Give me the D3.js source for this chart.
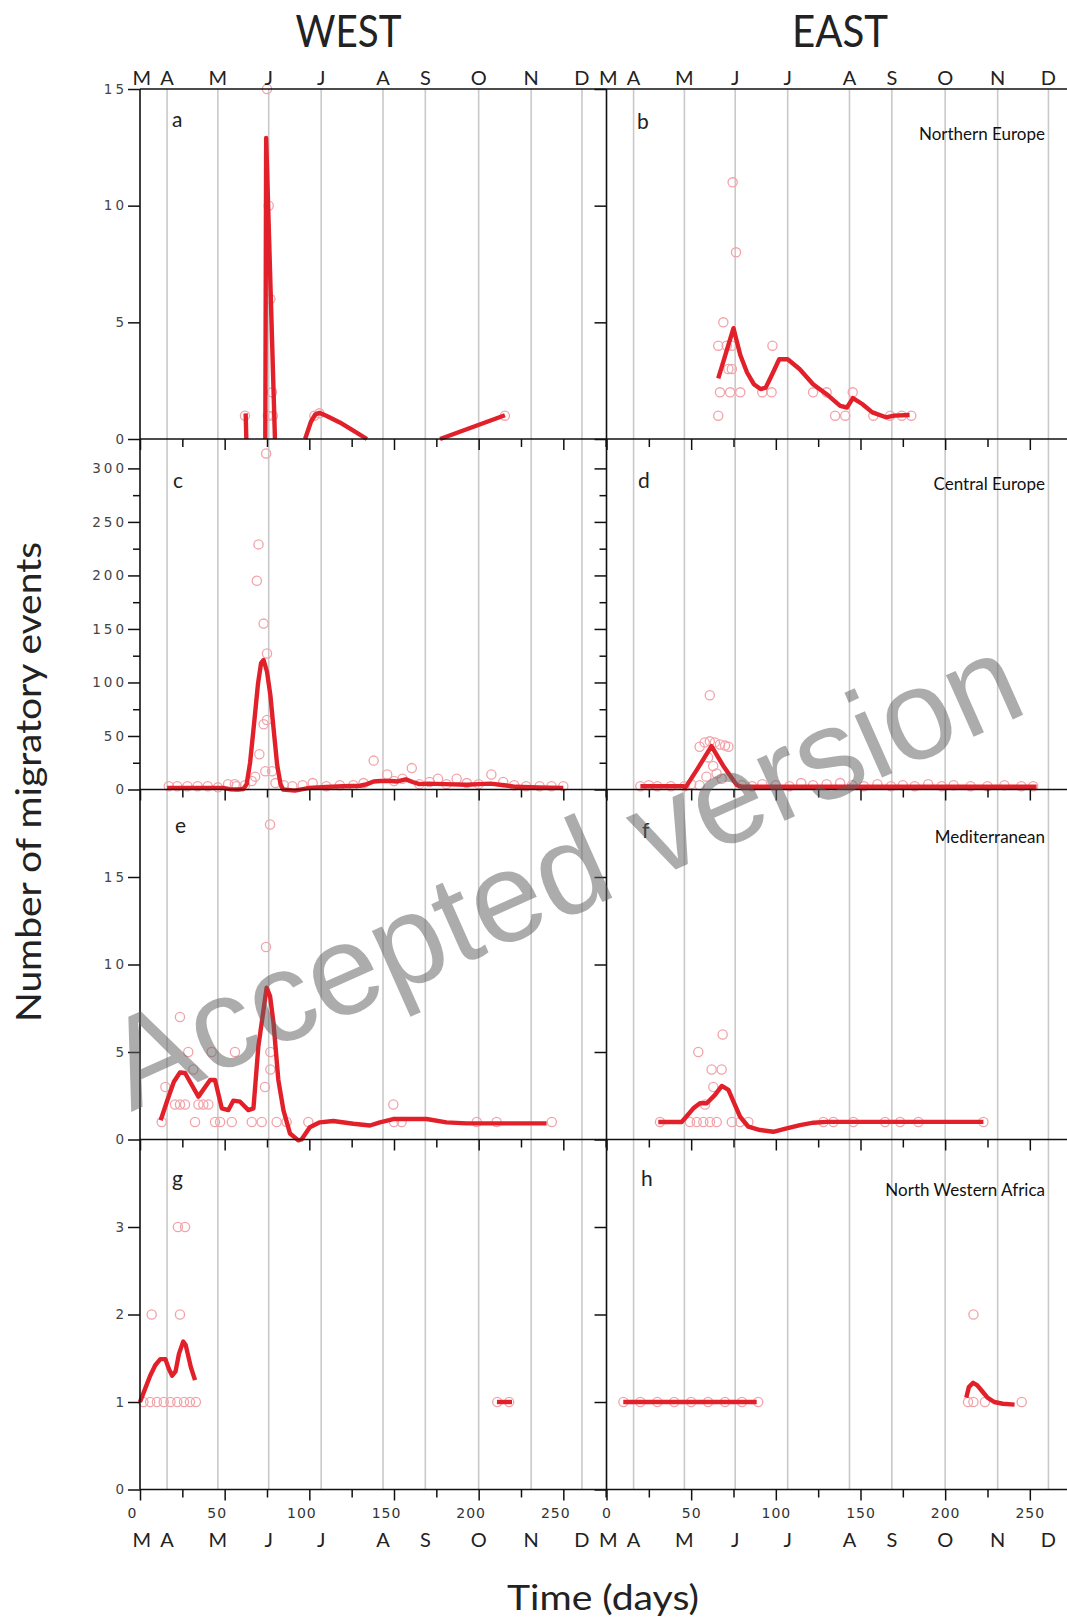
<!DOCTYPE html>
<html><head><meta charset="utf-8">
<script src="https://cdn.jsdelivr.net/npm/d3@7"></script>
<style>body{margin:0;background:#fff}svg{display:block}</style>
</head><body>
<svg id="c" width="1067" height="1624"></svg>
<script>
// ---------- data ----------
const months = ["M","A","M","J","J","A","S","O","N","D"];
const monthLabelDays = [1,16,46,76,107,143.5,168.5,200,231,261];
const monthLineDays = [16,46,76,107,143.5,168.5,200,231,261];
const dayMinorTicks = [25,75,125,175,225,275];
const dayMajorTicks = [0,50,100,150,200,250];
const columnTitles = ["WEST","EAST"];
const regionNames = ["Northern Europe","Central Europe","Mediterranean","North Western Africa"];
const panelLetters = ["a","b","c","d","e","f","g","h"];
const yMax = [15, 327, 20, 4];
const yMajorTicks = [[0,5,10,15],[0,50,100,150,200,250,300],[0,5,10,15],[0,1,2,3]];
const yMinorTicks = [[],[25,75,125,175,225,275],[],[]];

// panel a (West, Northern Europe)
const lineA = [
  [[62.4,1.1],[62.8,0]],
  [[74,0],[74.5,12.9],[79.7,0]],
  [[97.5,0],[101,0.75],[103.5,1.05],[106,1.12],[110,1.0],[118,0.71],[126,0.36],[134,0]],
  [[177.2,0],[215.5,1.02]]
];
const ptsA = [[62,1],[75,15],[76,10],[77,6],[78,2],[75.5,1],[78.5,1],[103,1],[106,1.1],[215.5,1]];
// panel b (East, Northern Europe)
const lineB = [
  [[66,2.6],[75,4.75],[79,3.6],[83,2.85],[87,2.35],[91,2.14],[94,2.2],[98,2.8],[102,3.42],[107,3.42],[114,3.0],[122,2.35],[130,1.92],[138,1.42],[142,1.35],[145.5,1.75],[151,1.5],[157,1.14],[165,0.93],[170,1.0],[179,1.03]]
];
const ptsB = [[74.5,11],[76.5,8],[69,5],[66,4],[71,4],[74,4],[98,4],[72,3],[74,3],[67,2],[73,2],[79,2],[92,2],[97.5,2],[122,2],[130,2],[145.4,2],[66,1],[135,1],[141,1],[157.6,1],[167.5,1],[174.4,1],[180,1]];
// panel c (West, Central Europe)
const lineC = [
  [[16,1.5],[30,1.5],[49,1.5],[53,0.3],[58,0],[61,0.5],[63,5],[65,25],[67.4,62],[69.7,99],[71.5,118],[73,121],[75,110],[77,88],[79,55],[81,23],[83,5],[84.5,0],[91.5,-1],[100,1.5],[110,2.5],[120,3],[130,3.5],[134,5],[138,7.5],[142,8],[148,8],[152,7.5],[157,9.5],[161,7],[165,5],[170,5.5],[180,5],[193,4.5],[200,5],[207,5.5],[215,4],[222,2.5],[235,2],[250,1.5]]
];
const ptsC = [[74.5,314],[70,229],[69,195],[73,155],[75,127],[73,61],[75,65],[70.5,33],[74,17],[68,12],[78,17],[66,8],[80,6],[62,4],[57,3],
  [17,3],[22,3],[28,3],[34,3],[40,3],[46,2],[52,5],[56,5],[85,4],[90,3],[96,4],[102,6],[110,3],[118,4],[126,4],[132,6],[138,27],[146,14],[150,8],[155,10],[160.5,20],[165,5],[171,7],[176,10],[181,5],[187,10],[193,6],[200,5],[207.5,14],[214.5,7],[221,4],[228,3],[236,3],[243,3],[250,3]];
// panel d (East, Central Europe)
const lineD = [
  [[20,3],[45.5,3],[46.5,1.5],[54,20],[62,40.5],[69,22],[77,4],[80,2.5],[120,2.5],[180,2.5],[254,2.5]]
];
const ptsD = [[61,88],[55,40],[58,44],[61,45],[64,44],[67,42],[70,41],[72,40],[60,30],[63,22],[65,15],[59,12],[68,10],[50,5],[55,4],[46,3],
  [20,3],[25,4],[30,3],[38,3],[80,4],[86,3],[92,5],[100,4],[108,3],[115,6],[122,4],[130,5],[138,6],[145,4],[152,3],[160,5],[168,3],[175,4],[182,3],[190,5],[198,3],[205,4],[215,3],[225,3],[235,4],[245,3],[252,3]];
// panel e (West, Mediterranean)
const lineE = [
  [[12.2,1.1],[16,2.2],[20,3.3],[23.6,3.83],[26.6,3.8],[34.5,2.45],[41.4,3.4],[44.3,3.4],[48.3,1.78],[52.2,1.68],[55.1,2.22],[59.1,2.16],[64,1.68],[67,1.78],[69.9,5.32],[74.8,8.68],[76.8,8.2],[78.8,6.7],[81.7,3.4],[84.7,1.68],[88.6,0.34],[93.5,-0.05],[95.4,0],[100.3,0.7],[106.2,0.98],[114.1,1.06],[126,0.9],[135.8,0.8],[141.7,0.98],[149.6,1.17],[169.2,1.17],[181,0.98],[192.9,0.92],[240.1,0.92]]
];
const ptsE = [[76.8,18],[74.4,11],[23.6,7],[28.5,5],[42.3,5],[56.1,5],[77,5],[31.5,4],[77,4],[15,3],[73.8,3],
  [20.7,2],[23.6,2],[26.6,2],[34.5,2],[37.4,2],[40.4,2],[149.6,2],
  [12.8,1],[32.5,1],[44.3,1],[47.3,1],[54.2,1],[66,1],[71.9,1],[80.7,1],[86.6,1],[99.4,1],[150,1],[154.5,1],[198.9,1],[210.6,1],[243.2,1]];
// panel f (East, Mediterranean)
const lineF = [
  [[30.6,1.0],[44.4,1.0],[51.3,1.78],[55.2,2.07],[59.2,2.07],[64.1,2.55],[68.1,3.06],[72,2.84],[75,2.16],[78.9,1.3],[83.8,0.73],[90.7,0.54],[98.5,0.44],[106.4,0.63],[114.3,0.82],[122.2,0.96],[130,1.01],[222.6,1.01]]
];
const ptsF = [[68.6,6],[54.2,5],[62.1,4],[68,4],[63.1,3],[58.2,2],
  [31.6,1],[49.3,1],[53.3,1],[57.2,1],[61.1,1],[65.1,1],[74,1],[78.9,1],[83.8,1],[128.1,1],[134,1],[145.8,1],[164.5,1],[173.4,1],[184.2,1],[222.6,1]];
// panel g (West, North Western Africa)
const lineG = [
  [[0,1.0],[3,1.15],[6,1.3],[9,1.42],[12,1.49],[15,1.49],[17,1.38],[19,1.3],[21,1.35],[23,1.55],[25.5,1.69],[27,1.65],[30,1.4],[32.5,1.25]],
  [[210.8,1],[219.7,1]]
];
const ptsG = [[6.9,2],[23.6,2],[22.4,3],[26.6,3],[2,1],[6,1],[10,1],[14,1],[18,1],[22,1],[26,1],[29.5,1],[33,1],[211,1],[218,1]];
// panel h (East, North Western Africa)
const lineH = [
  [[9.9,1],[88.7,1]],
  [[212.5,1.05],[214,1.17],[216.5,1.22],[219,1.19],[222,1.12],[225,1.05],[229,1.0],[234,0.98],[241,0.97]]
];
const ptsH = [[216.7,2],[10,1],[20,1],[30,1],[40,1],[50,1],[60,1],[70,1],[80,1],[89.6,1],[213.5,1],[216.7,1],[223.5,1],[245.2,1]];

const panelLines = [lineA,lineB,lineC,lineD,lineE,lineF,lineG,lineH];
const panelPoints = [ptsA,ptsB,ptsC,ptsD,ptsE,ptsF,ptsG,ptsH];

// ---------- layout ----------
const xL0 = 140, xMid = 606.5, dayMax = 275.5;
const rowTop = [89, 439.5, 789.5, 1139.5], rowH = 350, plotBottom = 1489.5;
const xScales = [
  d3.scaleLinear().domain([0, dayMax]).range([xL0, xMid]),
  d3.scaleLinear().domain([0, dayMax]).range([xMid, xMid + (xMid - xL0)])
];
const yScales = yMax.map((m, r) => d3.scaleLinear().domain([0, m]).range([rowTop[r] + rowH, rowTop[r]]));

const svg = d3.select("#c");
const labelFont = "Lato, 'Noto Sans', 'Open Sans', sans-serif";
const numFont = "'DejaVu Sans', Verdana, sans-serif";
const lineColor = "#e2202a", ptColor = "#f2a3aa", gridColor = "#c9c9c9";

// month gridlines
xScales.forEach(xs => {
  svg.append("g").selectAll("line").data(monthLineDays).join("line")
    .attr("x1", d => xs(d)).attr("x2", d => xs(d))
    .attr("y1", rowTop[0]).attr("y2", plotBottom)
    .attr("stroke", gridColor).attr("stroke-width", 1.6);
});

// panels
for (let i = 0; i < 8; i++) {
  const col = i % 2, row = Math.floor(i / 2);
  const xs = xScales[col], ys = yScales[row];
  const g = svg.append("g");
  g.append("g").selectAll("circle").data(panelPoints[i]).join("circle")
    .attr("cx", d => xs(d[0])).attr("cy", d => ys(d[1])).attr("r", 4.6)
    .attr("fill", "none").attr("stroke", ptColor).attr("stroke-width", 1.3);
  const line = d3.line().x(d => xs(d[0])).y(d => ys(d[1]));
  g.append("g").selectAll("path").data(panelLines[i]).join("path")
    .attr("d", line).attr("fill", "none").attr("stroke", lineColor)
    .attr("stroke-width", 4.4).attr("stroke-linejoin", "round").attr("stroke-linecap", "butt");
}

// axes
const axisColor = "#111";
function styleAxis(sel) {
  sel.select(".domain").remove();
  sel.selectAll(".tick line").attr("stroke", axisColor).attr("stroke-width", 1.5);
}
for (let row = 0; row < 4; row++) {
  const ys = yScales[row];
  [0, 1].forEach(col => {
    const x0 = col === 0 ? xL0 : xMid;
    const ga = svg.append("g").attr("transform", `translate(${x0},0)`)
      .call(d3.axisLeft(ys).tickValues(yMajorTicks[row]).tickSize(12).tickSizeOuter(0)
        .tickFormat(col === 0 ? d3.format("d") : () => ""));
    styleAxis(ga);
    ga.selectAll(".tick text").attr("x", -13).attr("fill", "#444")
      .style("font-family", numFont).style("font-size", "13.5px").style("letter-spacing", "3px");
    if (yMinorTicks[row].length) {
      const gm = svg.append("g").attr("transform", `translate(${x0},0)`)
        .call(d3.axisLeft(ys).tickValues(yMinorTicks[row]).tickSize(7).tickSizeOuter(0).tickFormat(() => ""));
      styleAxis(gm);
    }
    const yb = rowTop[row] + rowH;
    const xs = xScales[col];
    const gx = svg.append("g").attr("transform", `translate(0,${yb})`)
      .call(d3.axisBottom(xs).tickValues(dayMajorTicks).tickSize(11).tickSizeOuter(0)
        .tickFormat(row === 3 ? d3.format("d") : () => ""));
    styleAxis(gx);
    gx.selectAll(".tick text").attr("y", 19).attr("dx", col === 0 ? -8 : 0).attr("fill", "#333")
      .style("font-family", numFont).style("font-size", "14px").style("letter-spacing", "1px");
    const gxm = svg.append("g").attr("transform", `translate(0,${yb})`)
      .call(d3.axisBottom(xs).tickValues(dayMinorTicks).tickSize(8).tickSizeOuter(0).tickFormat(() => ""));
    styleAxis(gxm);
  });
  svg.append("line").attr("x1", xL0).attr("x2", 1067).attr("y1", rowTop[row] + rowH).attr("y2", rowTop[row] + rowH)
    .attr("stroke", axisColor).attr("stroke-width", 1.6);
}
svg.append("line").attr("x1", xL0).attr("x2", 1067).attr("y1", rowTop[0]).attr("y2", rowTop[0])
  .attr("stroke", axisColor).attr("stroke-width", 1.6);
[xL0, xMid].forEach(x => svg.append("line").attr("x1", x).attr("x2", x).attr("y1", rowTop[0]).attr("y2", plotBottom)
  .attr("stroke", axisColor).attr("stroke-width", 1.6));

// month labels top and bottom
xScales.forEach(xs => {
  svg.append("g").selectAll("text").data(months).join("text")
    .attr("x", (d, k) => xs(monthLabelDays[k])).attr("y", 85)
    .attr("text-anchor", "middle").attr("fill", "#222")
    .style("font-family", labelFont).style("font-size", "20px").text(d => d);
  svg.append("g").selectAll("text").data(months).join("text")
    .attr("x", (d, k) => xs(monthLabelDays[k])).attr("y", 1547)
    .attr("text-anchor", "middle").attr("fill", "#222")
    .style("font-family", labelFont).style("font-size", "20px").text(d => d);
});

// panel letters
const letterPos = [[172,126.5],[637,129],[173,488],[638,488],[175,833],[642,838],[172,1186],[641,1186]];
svg.append("g").selectAll("text").data(panelLetters).join("text")
  .attr("x", (d, k) => letterPos[k][0]).attr("y", (d, k) => letterPos[k][1])
  .attr("fill", "#222").style("font-family", labelFont).style("font-size", "21px").text(d => d);

// region names
const regionBase = [140, 490, 843, 1196];
svg.append("g").selectAll("text").data(regionNames).join("text")
  .attr("x", 1045).attr("y", (d, k) => regionBase[k]).attr("text-anchor", "end")
  .attr("fill", "#111").style("font-family", labelFont).style("font-size", "17px").text(d => d);

// column titles
const titleX = [348.5, 840], titleLen = [106, 96];
svg.append("g").selectAll("text").data(columnTitles).join("text")
  .attr("x", (d, k) => titleX[k] - titleLen[k] / 2).attr("y", 47)
  .attr("textLength", (d, k) => titleLen[k]).attr("lengthAdjust", "spacingAndGlyphs")
  .attr("fill", "#222").style("font-family", labelFont).style("font-size", "44px").text(d => d);

// axis titles
svg.append("text").attr("transform", "translate(41,782) rotate(-90)")
  .attr("x", -240).attr("textLength", 480).attr("lengthAdjust", "spacingAndGlyphs")
  .attr("fill", "#222").style("font-family", labelFont).style("font-size", "34px")
  .text("Number of migratory events");
svg.append("text").attr("x", 603 - 96).attr("y", 1610).attr("textLength", 192).attr("lengthAdjust", "spacingAndGlyphs")
  .attr("fill", "#222").style("font-family", labelFont).style("font-size", "34px").text("Time (days)");

// watermark
svg.append("text").attr("transform", "translate(131,1112) rotate(-24)")
  .attr("textLength", 985).attr("lengthAdjust", "spacingAndGlyphs")
  .attr("fill", "#5f5f5f").attr("fill-opacity", 0.52)
  .style("font-family", "'Liberation Sans', Arial, sans-serif").style("font-size", "128px")
  .text("Accepted version");
</script>
</body></html>
